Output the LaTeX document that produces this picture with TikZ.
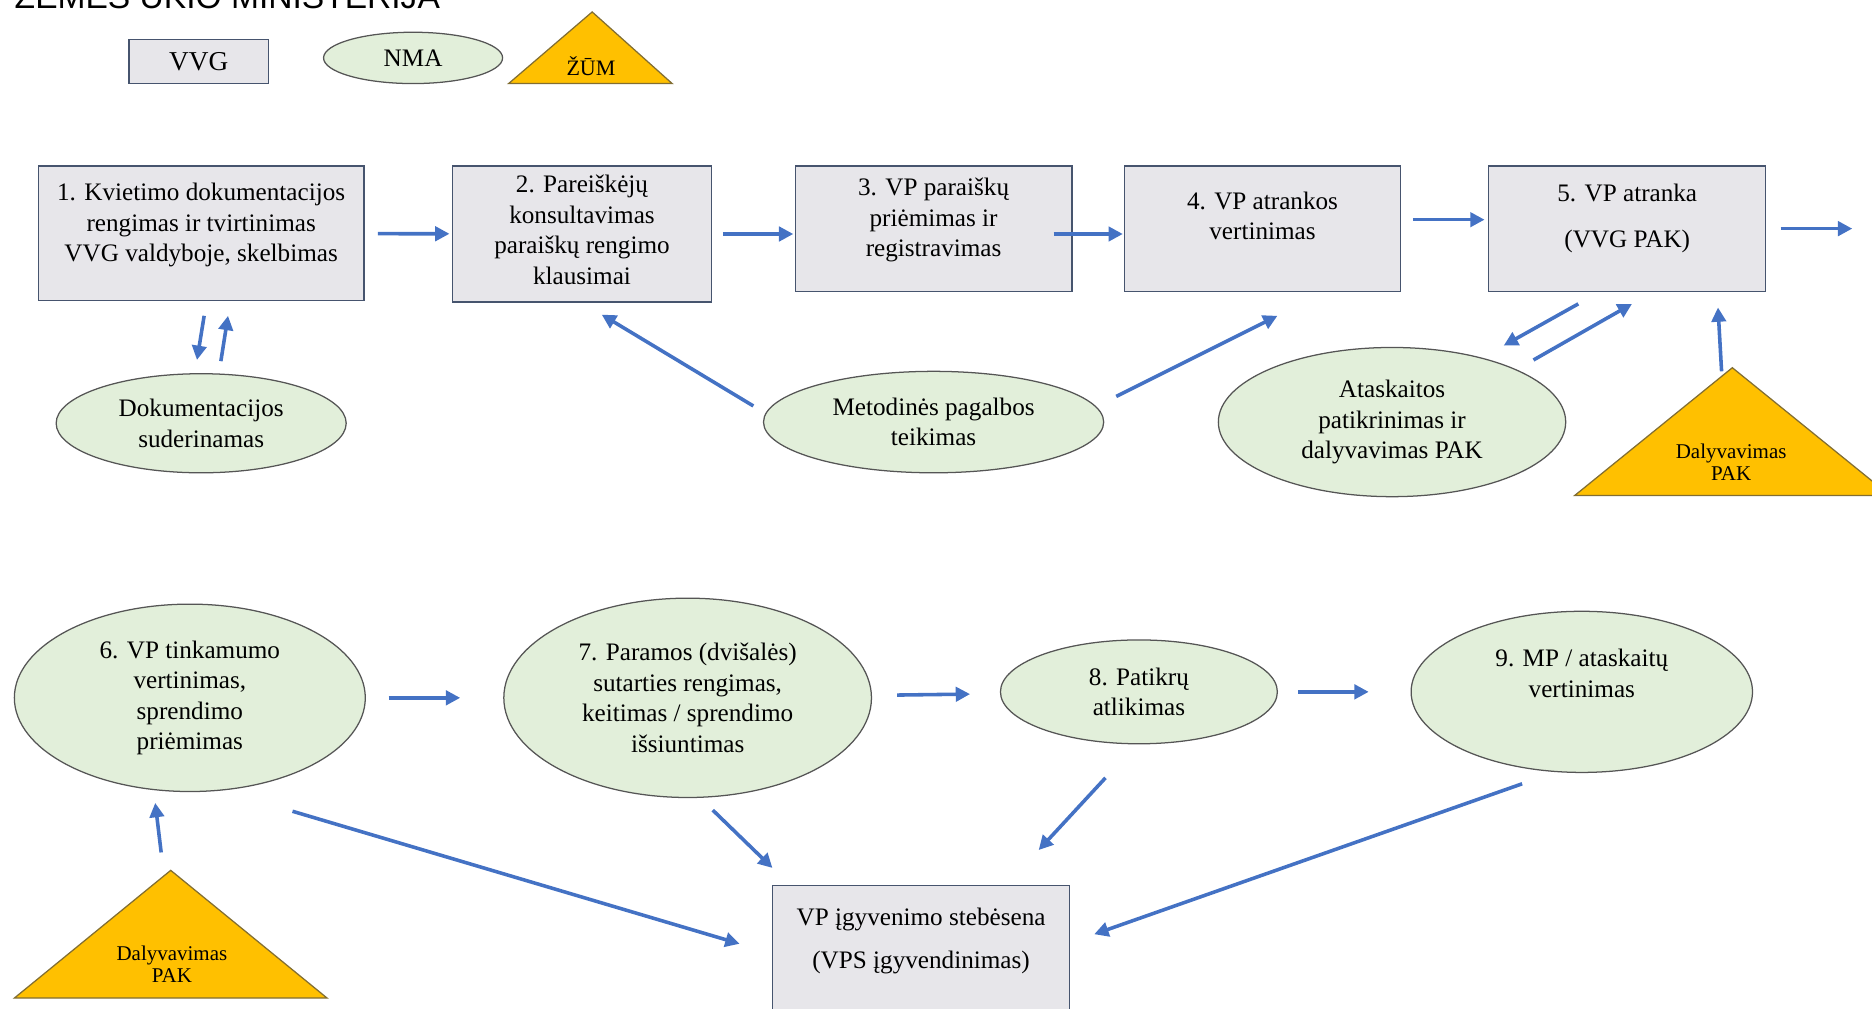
\documentclass[tikz,border=0pt]{standalone}
\usepackage{fontspec}
\setmainfont{Liberation Serif}
\newfontfamily\headsans{Liberation Sans}
\usetikzlibrary{arrows.meta, positioning, shapes, calc}
\definecolor{BoxGray}{RGB}{231, 230, 234}
\definecolor{BoxLine}{RGB}{70, 84, 110}
\definecolor{LeafGreen}{RGB}{226, 239, 218}
\definecolor{LeafLine}{RGB}{85, 85, 85}
\definecolor{ZumGold}{RGB}{255, 192, 0}
\definecolor{ZumLine}{RGB}{130, 110, 50}
\definecolor{FlowBlue}{RGB}{68, 114, 196}
\newcommand{\sinkby}[1]{\rule[-#1]{0pt}{0pt}}

\begin{document}
\begin{tikzpicture}[
            x=0.02cm, y=-0.02cm,
            vvg/.style={rectangle, draw=BoxLine, line width=0.6pt, fill=BoxGray,
                        align=center, inner sep=2pt, font=\fontsize{12}{14.5}\selectfont},
            nma/.style={ellipse, draw=LeafLine, line width=0.6pt, fill=LeafGreen,
                        align=center, inner sep=0pt, font=\fontsize{12}{14.5}\selectfont},
            zum/.style={draw=ZumLine, line width=0.6pt, fill=ZumGold},
            zumtext/.style={align=center, inner sep=0pt, font=\fontsize{10}{10.5}\selectfont},
            arrow/.style={-{Triangle[length=0.24cm, width=0.24cm]}, line width=1.7pt, FlowBlue}
        ]
            \useasboundingbox (0,0) rectangle (1568,845);
            \clip (0,0) rectangle (1568,845);

            \node[anchor=base west, inner sep=0pt, font=\headsans\fontsize{16}{18}\selectfont] (title) at (12,7) {ŽEMĖS ŪKIO MINISTERIJA};
            \node[vvg, minimum width=2.34cm, minimum height=0.74cm, font=\fontsize{13}{15}\selectfont] (lvvg) at (166.5,51.5) {VVG};
            \node[nma, minimum width=3cm, minimum height=0.86cm] (lnma) at (346,48.5) {NMA};
            \draw[zum] (426,70) -- (496,10) -- (563,70) -- cycle;
            \node[zumtext, font=\fontsize{10.5}{12}\selectfont] (lzum) at (495,55) {ŽŪM};

            \node[vvg, minimum width=5.46cm, minimum height=2.26cm] (b1) at (168.5,195.5)
                {1. Kvietimo dokumentacijos\\rengimas ir tvirtinimas\\VVG valdyboje, skelbimas\sinkby{0.36cm}};
            \node[vvg, minimum width=4.34cm, minimum height=2.28cm, right=1.46cm of b1.north east, anchor=north west] (b2)
                {2. Pareiškėjų\\konsultavimas\\paraiškų rengimo\\klausimai\sinkby{0.14cm}};
            \node[vvg, minimum width=4.64cm, minimum height=2.1cm, right=1.38cm of b2.north east, anchor=north west] (b3)
                {3. VP paraiškų\\priėmimas ir\\registravimas\sinkby{0.38cm}};
            \node[vvg, minimum width=4.62cm, minimum height=2.1cm, right=0.86cm of b3.north east, anchor=north west] (b4)
                {4. VP atrankos\\vertinimas\sinkby{0.44cm}};
            \node[vvg, minimum width=4.64cm, minimum height=2.1cm, right=1.46cm of b4.north east, anchor=north west] (b5)
                {5. VP atranka\\[7.4pt](VVG PAK)\sinkby{0.44cm}};
            \coordinate[right=1.44cm of b5] (cont);

            \node[nma, minimum width=4.86cm, minimum height=1.66cm, below=1.2cm of b1] (e1) {Dokumentacijos\\suderinamas};
            \node[nma, minimum width=5.7cm, minimum height=1.7cm, below=1.32cm of b3] (emet) {Metodinės pagalbos\\teikimas};
            \node[nma, minimum width=5.82cm, minimum height=2.5cm, right=1.9cm of emet] (eata) {Ataskaitos\\patikrinimas ir\\dalyvavimas PAK};

            \coordinate (t5top) at (1451,308);
            \draw[zum] (t5top) -- ++(132,107) -- ++(-264,0) -- cycle;
            \node[zumtext] (t5) at (1450,387) {Dalyvavimas\\PAK};

            \node[nma, minimum width=5.88cm, minimum height=3.14cm] (e6) at (159,584.5)
                {6. VP tinkamumo\\vertinimas,\\sprendimo\\priėmimas};
            \node[nma, minimum width=6.16cm, minimum height=3.34cm, right=2.3cm of e6] (e7)
                {7. Paramos (dvišalės)\\sutarties rengimas,\\keitimas / sprendimo\\išsiuntimas};
            \node[nma, minimum width=4.64cm, minimum height=1.74cm, right=2.14cm of e7, yshift=0.1cm] (e8)
                {8. Patikrų\\atlikimas};
            \node[nma, minimum width=5.72cm, minimum height=2.7cm, right=2.22cm of e8] (e9)
                {9. MP / ataskaitų\\vertinimas\sinkby{0.62cm}};
            \node[vvg, minimum width=4.98cm, minimum height=2.4cm, anchor=north] (vp) at (771.5,741)
                {VP įgyvenimo stebėsena\\[6.3pt](VPS įgyvendinimas)\sinkby{0.62cm}};

            \coordinate (t6top) at (143,729);
            \draw[zum] (t6top) -- ++(131,107) -- ++(-262,0) -- cycle;
            \node[zumtext] (t6) at (144,807.5) {Dalyvavimas\\PAK};

            \draw[arrow, shorten <=0.22cm, shorten >=0.04cm] (b1) -- (b2);
            \draw[arrow, shorten <=0.18cm, shorten >=0.02cm] (b2.east) -- (b2.east -| b3.west);
            \draw[arrow, shorten <=-0.32cm, shorten >=0.02cm] ([yshift=-0.09cm]b3.east) -- ([yshift=-0.09cm]b4.west);
            \draw[arrow, shorten <=0.2cm, shorten >=0.06cm] ([yshift=0.15cm]b4.east) -- ([yshift=0.15cm]b5.west);
            \draw[arrow, shorten <=0.24cm] (b5) -- (cont);

            \draw[arrow] ($(b1.south)+(2.5,12)$) -- ($(e1.north)+(-3.5,-11)$);
            \draw[arrow] ($(e1.north)+(16.5,-10)$) -- ($(b1.south)+(22.5,12)$);
            \draw[arrow] ($(emet.west)+(-8,-13.5)$) -- ($(b2.south)+(16.5,10)$);
            \draw[arrow] ($(emet.east)+(10,-21.5)$) -- ($(b4.south)+(12.5,20)$);
            \draw[arrow] ($(b5.south)+(-41,10)$) -- ($(eata.north)+(93.5,-1)$);
            \draw[arrow] ($(eata.north)+(118.5,11)$) -- ($(b5.south)+(4,10)$);
            \draw[arrow] ($(t5top)+(-9,3)$) -- ($(b5.south)+(76,13)$);

            \draw[arrow, shorten <=0.38cm, shorten >=0.72cm] (e6) -- (e7);
            \draw[arrow, shorten <=0.42cm, shorten >=0.5cm] (e7) -- (e8);
            \draw[arrow, shorten <=0.34cm, shorten >=0.7cm] (e8) -- (e9);
            \draw[arrow] ($(t6top)+(-8,-15)$) -- ($(e6.south)+(-29,9)$);
            \draw[arrow] ($(e6.south)+(86,16)$) -- ($(vp.west)+(-27,-11)$);
            \draw[arrow] ($(e7.south)+(21,10)$) -- ($(vp.north)+(-124.5,-14)$);
            \draw[arrow] ($(e8.south)+(-28,28)$) -- ($(vp.north)+(98.5,-29)$);
            \draw[arrow] ($(e9.south)+(-50,9)$) -- ($(vp.east)+(20,-19)$);
        \end{tikzpicture}
\end{document}
